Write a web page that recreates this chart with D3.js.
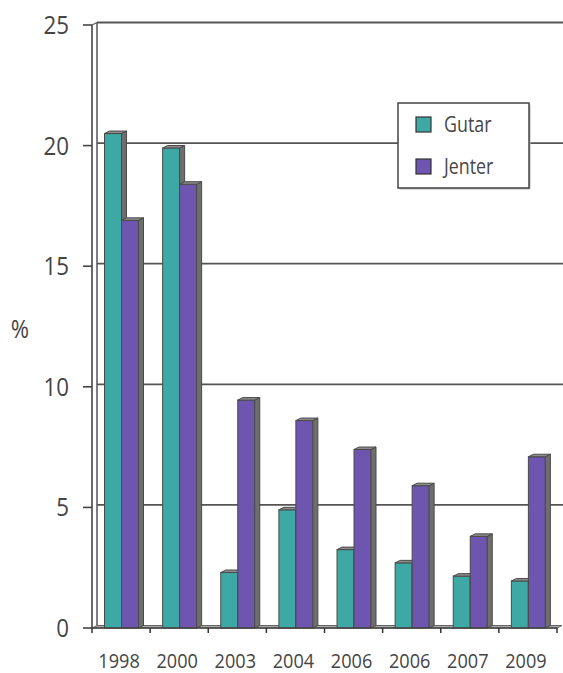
<!DOCTYPE html>
<html>
<head>
<meta charset="utf-8">
<script src="https://cdn.jsdelivr.net/npm/d3@7"></script>
<style>
  html, body { margin: 0; padding: 0; background: #fff; }
  svg { display: block; }
  text { font-family: "Open Sans", "Noto Sans", sans-serif; fill: #454545; }
</style>
</head>
<body>
<svg id="chart" width="563" height="673"></svg>
<script>
// Survey years (the 2006 label appears twice in the source table)
const years = ["1998", "2000", "2003", "2004", "2006", "2006", "2007", "2009"];
// Share in percent
const gutar  = [20.5, 19.9, 2.3, 4.9, 3.25, 2.7, 2.15, 1.95];
const jenter = [16.9, 18.4, 9.45, 8.6, 7.4, 5.9, 3.8, 7.1];
const seriesNames = ["Gutar", "Jenter"];
const yTicks = [0, 5, 10, 15, 20, 25];

const colors = { Gutar: "#3ea8a4", Jenter: "#6e55b0" };
const sideColor = "#6e6e6e";
const topColor = "#8c8c8c";
const edge = "#4a4a4a";

const svg = d3.select("#chart");

// Plot frame
const x0 = 92, x1 = 557, yBase = 628, yTop = 25;
const dx = 5, dy = -2.5;          // depth offset of the back wall

const y = d3.scaleLinear().domain([0, 25]).range([yBase, yTop]);
const x = d3.scaleBand().domain(d3.range(years.length)).range([x0, x1]).paddingInner(0).paddingOuter(0);
const step = x.step();

// Back wall gridlines
svg.append("g").selectAll("line").data(yTicks.filter(v => v > 0)).join("line")
  .attr("x1", x0 + dx).attr("x2", 600)
  .attr("y1", d => y(d) + dy).attr("y2", d => y(d) + dy)
  .attr("stroke", "#555").attr("stroke-width", 1.8);

// Side wall (left)
svg.append("line").attr("x1", x0 + dx).attr("x2", x0 + dx)
  .attr("y1", y(25) + dy).attr("y2", yBase + dy)
  .attr("stroke", "#555").attr("stroke-width", 1.5);
svg.append("line").attr("x1", x0).attr("x2", x0 + dx)
  .attr("y1", y(25)).attr("y2", y(25) + dy)
  .attr("stroke", "#555").attr("stroke-width", 1.2);

// Floor
svg.append("path")
  .attr("d", `M${x0},${yBase} L${x1},${yBase} L${x1 + dx},${yBase + dy} L${x0 + dx},${yBase + dy} Z`)
  .attr("fill", "#a8a8a8").attr("stroke", "#666").attr("stroke-width", 1);

// Bars with front, side and top faces
const barW = 17;
const offsets = { Gutar: 12.5, Jenter: 29.5 };
const data = [];
years.forEach((yr, i) => {
  data.push({ i, s: "Gutar", v: gutar[i] });
  data.push({ i, s: "Jenter", v: jenter[i] });
});

const bars = svg.append("g").selectAll("g").data(data).join("g");
bars.each(function (d) {
  const g = d3.select(this);
  const bx = x(d.i) + offsets[d.s];
  const by = y(d.v);
  // front
  g.append("rect").attr("x", bx).attr("y", by).attr("width", barW).attr("height", yBase - by)
    .attr("fill", colors[d.s]).attr("stroke", edge).attr("stroke-width", 1);
  // side
  g.append("path")
    .attr("d", `M${bx + barW},${by} L${bx + barW + dx},${by + dy} L${bx + barW + dx},${yBase + dy} L${bx + barW},${yBase} Z`)
    .attr("fill", sideColor).attr("stroke", edge).attr("stroke-width", 1);
  // top
  g.append("path")
    .attr("d", `M${bx},${by} L${bx + barW},${by} L${bx + barW + dx},${by + dy} L${bx + dx},${by + dy} Z`)
    .attr("fill", topColor).attr("stroke", edge).attr("stroke-width", 1);
});

// Front axes
svg.append("line").attr("x1", x0).attr("x2", x0).attr("y1", y(25)).attr("y2", yBase)
  .attr("stroke", "#444").attr("stroke-width", 1.6);
svg.append("line").attr("x1", x0).attr("x2", x1).attr("y1", yBase).attr("y2", yBase)
  .attr("stroke", "#444").attr("stroke-width", 1.4);

// Y ticks and labels
const yAxisG = svg.append("g");
yAxisG.selectAll("line").data(yTicks).join("line")
  .attr("x1", x0 - 9).attr("x2", x0).attr("y1", d => y(d)).attr("y2", d => y(d))
  .attr("stroke", "#444").attr("stroke-width", 1.6);
yAxisG.selectAll("text").data(yTicks).join("text")
  .attr("transform", d => `translate(69,${y(d) + 9}) scale(0.86,1)`)
  .attr("text-anchor", "end").attr("font-size", 26)
  .text(d => d);

// X ticks and labels
const xTickPos = d3.range(years.length + 1).map(i => x0 + i * step);
svg.append("g").selectAll("line").data(xTickPos).join("line")
  .attr("x1", d => d).attr("x2", d => d).attr("y1", yBase).attr("y2", yBase + 5)
  .attr("stroke", "#333").attr("stroke-width", 1.5);
svg.append("g").selectAll("text").data(years).join("text")
  .attr("transform", (d, i) => `translate(${x(i) + step / 2 - 2},668) scale(0.93,1)`)
  .attr("text-anchor", "middle").attr("font-size", 19.5)
  .text(d => d);

// Axis title
svg.append("text").attr("transform", "translate(20,338) scale(0.85,1)")
  .attr("text-anchor", "middle").attr("font-size", 26).text("%");

// Legend
const lg = svg.append("g").attr("transform", "translate(398,103)");
lg.append("rect").attr("x", 1.5).attr("y", 1.5).attr("width", 131).attr("height", 85)
  .attr("fill", "#bbb");
lg.append("rect").attr("width", 131).attr("height", 85)
  .attr("fill", "#fff").attr("stroke", "#444").attr("stroke-width", 1.5);
seriesNames.forEach((name, k) => {
  const row = lg.append("g").attr("transform", `translate(0,${14 + k * 42})`);
  row.append("rect").attr("x", 18).attr("y", 0).attr("width", 15).attr("height", 15)
    .attr("fill", colors[name]).attr("stroke", "#333").attr("stroke-width", 1.2);
  row.append("text").attr("transform", "translate(46,15) scale(0.85,1)")
    .attr("font-size", 21).text(name);
});
</script>
</body>
</html>
